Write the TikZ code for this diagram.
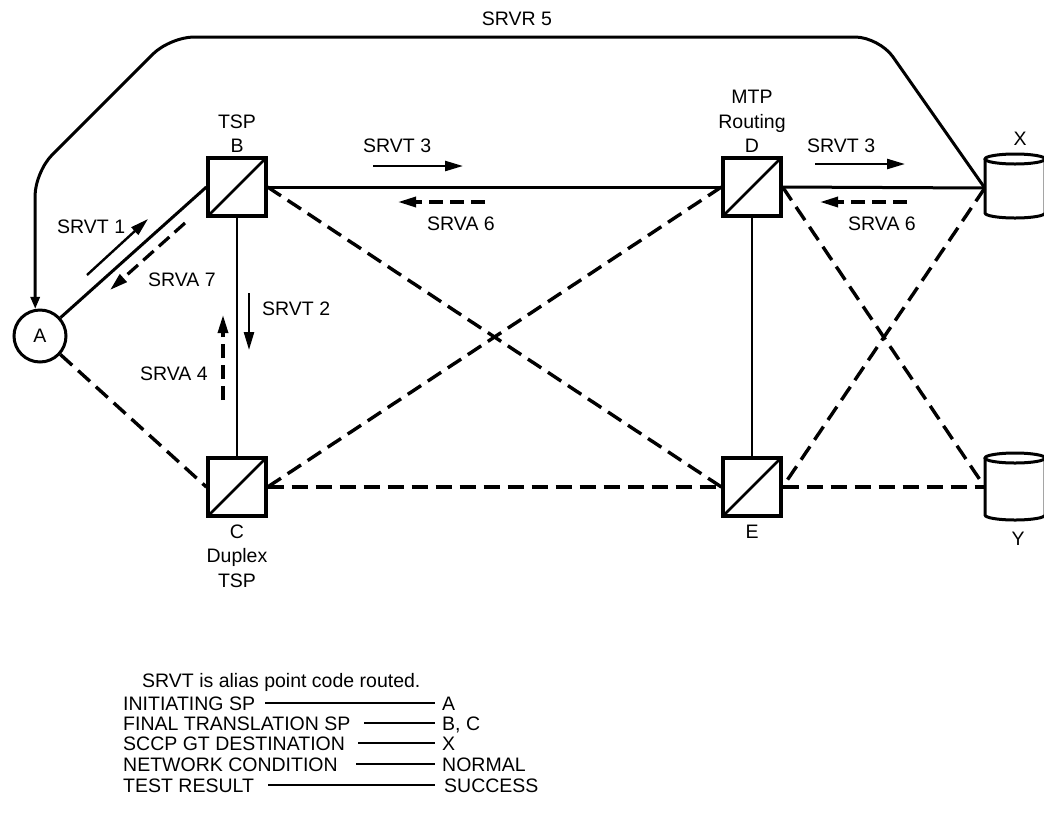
\documentclass[tikz,border=0pt]{standalone}
\usepackage{fontspec}
\setmainfont{Liberation Sans}
\usetikzlibrary{arrows.meta}
\begin{document}
\begin{tikzpicture}[x=1pt,y=-1pt,
  every node/.style={font=\fontsize{19.5}{22}\selectfont, inner sep=0pt},
  spbox/.style={draw, line width=3.2pt, minimum size=58pt, inner sep=0pt,
    path picture={\draw[line width=2.8pt] (path picture bounding box.south west) -- (path picture bounding box.north east);}},
  endpt/.style={draw, circle, line width=3pt, minimum size=52pt},
  dbase/.style={minimum width=60pt, minimum height=60pt},
  link/.style={line width=3pt},
  thinlink/.style={line width=2.4pt},
  dlink/.style={line width=3.4pt, dash pattern=on 16pt off 8pt},
  tip/.style={-{Triangle[length=18pt,width=10pt]}},
  sarrow/.style={line width=2.4pt, tip},
  darrow/.style={line width=3.2pt, dash pattern=on 14pt off 7pt, tip},
  lbl/.style={anchor=base},
  lblw/.style={anchor=base west},
  legline/.style={line width=1.4pt}
]
\clip (0,0) rectangle (1044,812);
\useasboundingbox (0,0) rectangle (1044,812);

% nodes
\node[endpt] (A) at (40,336) {A};
\node[spbox] (B) at (237,187) {};
\node[spbox] (C) at (237,487) {};
\node[spbox] (D) at (752,187) {};
\node[spbox] (E) at (752,487) {};
\node[dbase] (X) at (1015,188) {};
\node[dbase] (Y) at (1015,487) {};

% cylinders
\draw[line width=3pt] (1015,159) ellipse [x radius=30pt, y radius=5pt];
\draw[line width=3pt] (985,159) -- (985,213) arc[start angle=180, end angle=360, x radius=30pt, y radius=5pt] -- (1045,159);
\draw[line width=3pt] (1015,458) ellipse [x radius=30pt, y radius=5pt];
\draw[line width=3pt] (985,458) -- (985,515) arc[start angle=180, end angle=360, x radius=30pt, y radius=5pt] -- (1045,458);

% node labels
\node[lbl] (lTSPB) at (237,128) {TSP};
\node[lbl] (lB) at (237,152) {B};
\node[lbl] (lMTP) at (752,103) {MTP};
\node[lbl] (lRout) at (752,128) {Routing};
\node[lbl] (lD) at (752,152) {D};
\node[lbl] (lX) at (1020,145) {X};
\node[lbl] (lC) at (237,538) {C};
\node[lbl] (lDup) at (237,562) {Duplex};
\node[lbl] (lTSPC) at (237,587) {TSP};
\node[lbl] (lE) at (752,538) {E};
\node[lbl] (lY) at (1018,545) {Y};
\node[lbl] (lR5) at (517,25) {SRVR 5};

% solid links
\draw[link] (B.east) -- (D.west);
\draw[link] (D.east) -- (X.west);
\draw[link] (A) -- (B.west);
\draw[thinlink] (B.south) -- (C.north);
\draw[thinlink] (D.south) -- (E.north);
\draw[link, -{Triangle[length=12pt,width=9pt]}, rounded corners=24pt]
  (X.west) -- (879,37) -- (170,37) -- (35,172) -- (A.100);

% dashed links
\draw[dlink] (A) -- (C.west);
\draw[dlink] (B.east) -- (E.west);
\draw[dlink] (C.east) -- (D.west);
\draw[dlink] (C.east) -- (E.west);
\draw[dlink] (D.east) -- (Y.west);
\draw[dlink] (X.west) -- (E.east);
\draw[dlink] (E.east) -- (Y.west);

% message arrows
\coordinate (t1a) at (87,275);  \coordinate (t1b) at (148,219);
\coordinate (a7a) at (185,223); \coordinate (a7b) at (110,290);
\coordinate (t2a) at (249,293); \coordinate (t2b) at (249,350);
\coordinate (a4a) at (223,400); \coordinate (a4b) at (223,315);
\coordinate (t3a) at (373,166); \coordinate (t3b) at (463,166);
\coordinate (a6a) at (485,202); \coordinate (a6b) at (398,202);
\coordinate (t3c) at (815,164); \coordinate (t3d) at (905,164);
\coordinate (a6c) at (907,202); \coordinate (a6d) at (820,202);
\draw[sarrow] (t1a) -- (t1b);
\draw[darrow] (a7a) -- (a7b);
\draw[sarrow] (t2a) -- (t2b);
\draw[darrow] (a4a) -- (a4b);
\draw[sarrow] (t3a) -- (t3b);
\draw[darrow] (a6a) -- (a6b);
\draw[sarrow] (t3c) -- (t3d);
\draw[darrow] (a6c) -- (a6d);

\node[lblw] (m1) at (57,233) {SRVT 1};
\node[lblw] (m7) at (148,286) {SRVA 7};
\node[lblw] (m2) at (262,315) {SRVT 2};
\node[lblw] (m4) at (140,380) {SRVA 4};
\node[lblw] (m3) at (363,152) {SRVT 3};
\node[lblw] (m6) at (427,230) {SRVA 6};
\node[lblw] (m3b) at (807,152) {SRVT 3};
\node[lblw] (m6b) at (848,230) {SRVA 6};

% legend
\node[lblw] (g0) at (142,687) {SRVT is alias point code routed.};
\node[lblw] (g1) at (123,710) {INITIATING SP};
\node[lblw] (g2) at (123,730) {FINAL TRANSLATION SP};
\node[lblw] (g3) at (123,750) {SCCP GT DESTINATION};
\node[lblw] (g4) at (123,771) {NETWORK CONDITION};
\node[lblw] (g5) at (123,792) {TEST RESULT};
\node[lblw] (v1) at (442,710) {A};
\node[lblw] (v2) at (442,730) {B, C};
\node[lblw] (v3) at (442,750) {X};
\node[lblw] (v4) at (442,771) {NORMAL};
\node[lblw] (v5) at (444,792) {SUCCESS};
\draw[legline] (265,703) -- (435,703);
\draw[legline] (364,723) -- (435,723);
\draw[legline] (358,743) -- (435,743);
\draw[legline] (356,764) -- (435,764);
\draw[legline] (268,785) -- (435,785);
\end{tikzpicture}
\end{document}
